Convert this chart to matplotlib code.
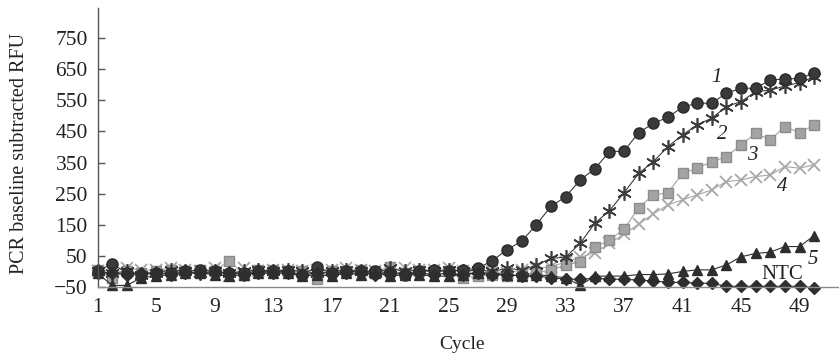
import numpy as np
import matplotlib
matplotlib.use("Agg")
import matplotlib.pyplot as plt

# --- Data ------------------------------------------------------------------

cycles = np.arange(1, 51)

curve1 = [0, 25, -5, -10, -5, -5, 0, 5, 0, -5, -5, 0, 0, 0, -10, 15, -5, 0, 0, 0,
          -5, -10, 0, 5, 0, 5, 10, 35, 70, 97, 150, 209, 240, 294, 330, 385, 387,
          446, 476, 496, 528, 541, 541, 573, 589, 589, 616, 618, 621, 637]
curve2 = [0, -5, 0, -10, -5, 5, 0, -5, 0, -5, 0, 5, 0, 5, 0, -5, 0, 5, 0, -5,
          10, 0, 5, 0, 5, 0, 5, 0, 10, 5, 20, 42, 46, 90, 155, 195, 253, 315, 353,
          401, 439, 471, 493, 530, 546, 578, 583, 596, 607, 626]
curve3 = [5, -20, 0, -5, 0, 5, 0, 5, 0, 35, -10, 5, 5, 0, 0, -25, 0, 0, 5, 0,
          15, -5, 0, 0, 0, -20, -15, -10, -15, -10, -5, 5, 20, 31, 78, 101, 136,
          205, 246, 253, 315, 332, 353, 369, 407, 444, 423, 466, 446, 471]
curve4 = [0, 5, 10, 5, 5, 10, 5, 0, 10, -15, 10, 0, 5, 5, 0, 5, 5, 10, 5, 0,
          5, 10, 5, 5, 10, 0, -5, 0, -5, 5, 10, 15, 30, 45, 60, 90, 120, 152, 185,
          214, 230, 246, 262, 289, 294, 305, 310, 337, 332, 343]
curve5 = [-5, -45, -45, -20, -15, -10, -5, -5, -10, -15, -10, -5, -5, -5, -15,
          -10, -15, -5, -10, -5, -15, -10, -10, -15, -15, -10, -5, -5, -10, -15,
          -10, -15, -20, -45, -15, -15, -15, -10, -10, -8, 0, 5, 5, 21, 47, 58,
          62, 80, 80, 115]
ntc = [-5, -5, -10, -5, -5, -10, -5, -5, -5, -5, -10, -5, -5, -5, -10, -5, -5,
       -5, -5, -10, -5, -5, -5, -10, -5, -10, -5, -10, -10, -15, -15, -20, -25,
       -25, -22, -25, -25, -28, -30, -35, -35, -38, -38, -48, -48, -48, -48,
       -48, -48, -52]

series_labels = ["1", "2", "3", "4", "5", "NTC"]
label_pos = [(43.3, 622), (43.7, 439), (45.8, 374), (47.8, 272), (49.9, 37), (47.8, -11)]

xticks = list(range(1, 50, 4))
yticks = list(range(-50, 751, 100))

# --- Plot ------------------------------------------------------------------

plt.rcParams["font.family"] = ["Liberation Serif", "DejaVu Serif"]

fig = plt.figure(figsize=(8.39, 3.57), dpi=100)
ax = fig.add_axes([97.5 / 839, 1 - 287 / 357, 1 - 97.5 / 839, 279 / 357])

common = dict(lw=0.8, clip_on=False)
ax.plot(cycles, curve4, marker="x", ms=8.5, mew=1.3, color="#a8a8a8", **common)
ax.plot(cycles, curve3, marker="s", ms=7.5, color="#a3a3a3", mec="#8c8c8c", **common)
ax.plot(cycles, curve2, marker=(6, 2, 0), ms=10.5, mew=1.2, color="#3c3c3c", **common)
ax.plot(cycles, curve1, marker="o", ms=8, color="#3a3a3a", mec="#2a2a2a", **common)
ax.plot(cycles, curve5, marker="^", ms=7.5, color="#2e2e2e", **common)
ax.plot(cycles, ntc, marker="D", ms=6, color="#2e2e2e", **common)

for lab, (lx, ly) in zip(series_labels, label_pos):
    style = "normal" if lab == "NTC" else "italic"
    ax.text(lx, ly, lab, fontsize=15, style=style, ha="center", va="center",
            color="#222222")

ax.set_xlim(1, 51.7)
ax.set_ylim(-50, 847)
ax.set_xticks(xticks)
ax.set_yticks(yticks)
ax.set_yticklabels([str(v).replace("-", "\u2212") for v in yticks])

ax.spines["top"].set_visible(False)
ax.spines["right"].set_visible(False)
ax.spines["left"].set_color("#555555")
ax.spines["left"].set_linewidth(1.0)
ax.spines["bottom"].set_color("#8a8a8a")
ax.spines["bottom"].set_linestyle((0, (1, 1)))
ax.spines["bottom"].set_linewidth(1.0)

ax.tick_params(axis="y", direction="in", length=5, width=1, color="#555555",
               labelsize=15.5, pad=7, labelcolor="#222222")
ax.tick_params(axis="x", length=0, labelsize=15.5, pad=8, labelcolor="#222222")

ax.set_xlabel("Cycle", fontsize=14, color="#222222")
ax.set_ylabel("PCR baseline subtracted RFU", fontsize=14.5, color="#222222")
ax.xaxis.set_label_coords(0.4916, -0.176)
ax.yaxis.set_label_coords(-0.092, 0.48)

fig.savefig("out.png", dpi=100)
